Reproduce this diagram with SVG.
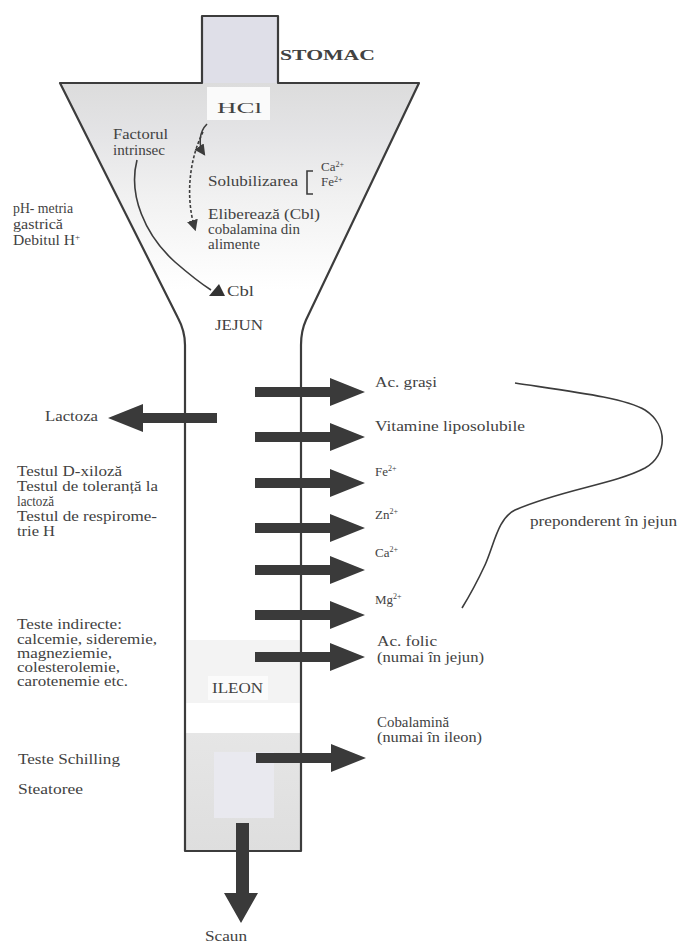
<svg xmlns="http://www.w3.org/2000/svg" xmlns:xlink="http://www.w3.org/1999/xlink" width="678" height="944" viewBox="0 0 678 944">
  <style>
    .t { font-family: "Liberation Serif", "Times New Roman", serif; font-size: 14px; fill: #424242; }
    .s { font-size: 13px; }
    .sup { font-size: 8px; }
    .wall { fill: none; stroke: #3c3c3c; stroke-width: 2.2; stroke-linejoin: round; }
    .thin { fill: none; stroke: #3c3c3c; stroke-width: 1.6; }
    .big { fill: #3a3a3a; }
  </style>
  <defs>
    <linearGradient id="stomachFill" x1="0" y1="83" x2="0" y2="290" gradientUnits="userSpaceOnUse">
      <stop offset="0" stop-color="#dcdcdc"/>
      <stop offset="0.25" stop-color="#e4e4e6"/>
      <stop offset="0.55" stop-color="#f1f1f1"/>
      <stop offset="1" stop-color="#ffffff"/>
    </linearGradient>
    <linearGradient id="ileumFill" x1="0" y1="733" x2="0" y2="851" gradientUnits="userSpaceOnUse">
      <stop offset="0" stop-color="#e6e6e6"/>
      <stop offset="1" stop-color="#dedede"/>
    </linearGradient>
    <path id="arrowRight" d="M0,-5 H75 V-14 L110,0 L75,14 V5 H0 Z"/>
    <marker id="tip" viewBox="0 0 10 10" refX="8" refY="5" markerWidth="7" markerHeight="7" orient="auto">
      <path d="M0,0 L10,5 L0,10 Z" fill="#3c3c3c"/>
    </marker>
  </defs>

  <rect width="678" height="944" fill="#ffffff"/>

  <!-- stomach, jejunum and ileum outline with shading -->
  <g id="stomac">
    <rect x="202" y="16" width="76" height="67" fill="#dfdfe8"/>
    <polygon points="60,83 419,83 306,320 178,318" fill="url(#stomachFill)"/>
    <rect x="207" y="87" width="63" height="33" fill="#fafafa"/>
    <rect x="186" y="640" width="114" height="63" fill="#f3f3f3"/>
    <rect x="208" y="676" width="60" height="24" fill="#fbfbfb"/>
    <rect x="186" y="733" width="114" height="117" fill="url(#ileumFill)"/>
    <rect x="214" y="752" width="60" height="66" fill="#e9e9ef"/>
    <path class="wall" d="M60,83 L202,83 L202,16 L278,16 L278,83 L419,83 L306,320 Q301,331 301,345 L301,851 L185,851 L185,345 Q185,331 178,318 Z"/>
    <text class="t" x="280" y="60" font-size="19" font-weight="bold" textLength="95" lengthAdjust="spacingAndGlyphs">STOMAC</text>
    <text class="t" x="217" y="113" font-size="19" textLength="45" lengthAdjust="spacingAndGlyphs">HCl</text>
  </g>

  <!-- gastric content -->
  <g id="factor-intrinsec">
    <text class="t" x="113" y="139" textLength="55" lengthAdjust="spacingAndGlyphs">Factorul</text>
    <text class="t" x="113" y="155" textLength="52" lengthAdjust="spacingAndGlyphs">intrinsec</text>
  </g>
  <g id="solubilizare">
    <text class="t" x="208" y="186" textLength="90" lengthAdjust="spacingAndGlyphs">Solubilizarea</text>
    <path class="thin" d="M313,171 H307 V194 H313"/>
    <text class="t s" x="321" y="171">Ca<tspan class="sup" dy="-4">2+</tspan></text>
    <text class="t s" x="321" y="186">Fe<tspan class="sup" dy="-4">2+</tspan></text>
  </g>
  <g id="eliberare">
    <text class="t" x="208" y="219" textLength="112" lengthAdjust="spacingAndGlyphs">Eliberează (Cbl)</text>
    <text class="t" x="208" y="234" textLength="92" lengthAdjust="spacingAndGlyphs">cobalamina din</text>
    <text class="t" x="208" y="249" textLength="52" lengthAdjust="spacingAndGlyphs">alimente</text>
  </g>
  <g id="cbl">
    <polygon points="209,296 219,284 225,296" fill="#333"/>
    <text class="t" x="227" y="296" textLength="27" lengthAdjust="spacingAndGlyphs">Cbl</text>
  </g>
  <g id="jejun">
    <text class="t" x="215" y="330" textLength="48" lengthAdjust="spacingAndGlyphs">JEJUN</text>
  </g>
  <g id="ileon">
    <text class="t" x="212" y="693" textLength="51" lengthAdjust="spacingAndGlyphs">ILEON</text>
  </g>

  <!-- left-hand labels -->
  <g id="ph-metria">
    <text class="t" x="13" y="213" textLength="60" lengthAdjust="spacingAndGlyphs">pH- metria</text>
    <text class="t" x="13" y="229" textLength="50" lengthAdjust="spacingAndGlyphs">gastrică</text>
    <text class="t" x="13" y="245" textLength="67" lengthAdjust="spacingAndGlyphs">Debitul H<tspan class="sup" dy="-5">+</tspan></text>
  </g>
  <g id="lactoza">
    <text class="t" x="45" y="421" textLength="53" lengthAdjust="spacingAndGlyphs">Lactoza</text>
  </g>
  <g id="teste-absorbtie">
    <text class="t" x="17" y="476" textLength="105" lengthAdjust="spacingAndGlyphs">Testul D-xiloză</text>
    <text class="t" x="17" y="491" textLength="141" lengthAdjust="spacingAndGlyphs">Testul de toleranță la</text>
    <text class="t" x="17" y="506" textLength="37" lengthAdjust="spacingAndGlyphs">lactoză</text>
    <text class="t" x="17" y="521" textLength="140" lengthAdjust="spacingAndGlyphs">Testul de respirome-</text>
    <text class="t" x="17" y="536" textLength="38" lengthAdjust="spacingAndGlyphs">trie H</text>
  </g>
  <g id="teste-indirecte">
    <text class="t" x="17" y="629" textLength="105" lengthAdjust="spacingAndGlyphs">Teste indirecte:</text>
    <text class="t" x="17" y="644" textLength="140" lengthAdjust="spacingAndGlyphs">calcemie, sideremie,</text>
    <text class="t" x="17" y="658" textLength="95" lengthAdjust="spacingAndGlyphs">magneziemie,</text>
    <text class="t" x="17" y="672" textLength="103" lengthAdjust="spacingAndGlyphs">colesterolemie,</text>
    <text class="t" x="17" y="686" textLength="111" lengthAdjust="spacingAndGlyphs">carotenemie etc.</text>
  </g>
  <g id="schilling">
    <text class="t" x="18" y="764" textLength="102" lengthAdjust="spacingAndGlyphs">Teste Schilling</text>
  </g>
  <g id="steatoree">
    <text class="t" x="18" y="794" textLength="65" lengthAdjust="spacingAndGlyphs">Steatoree</text>
  </g>

  <!-- right-hand absorbed substances -->
  <g id="ac-grasi"><text class="t" x="375" y="387" textLength="62" lengthAdjust="spacingAndGlyphs">Ac. grași</text></g>
  <g id="vitamine"><text class="t" x="375" y="431" textLength="150" lengthAdjust="spacingAndGlyphs">Vitamine liposolubile</text></g>
  <g id="fe"><text class="t s" x="375" y="476">Fe<tspan class="sup" dy="-5">2+</tspan></text></g>
  <g id="zn"><text class="t s" x="375" y="519">Zn<tspan class="sup" dy="-5">2+</tspan></text></g>
  <g id="ca"><text class="t s" x="375" y="557">Ca<tspan class="sup" dy="-5">2+</tspan></text></g>
  <g id="mg"><text class="t s" x="375" y="604">Mg<tspan class="sup" dy="-5">2+</tspan></text></g>
  <g id="ac-folic">
    <text class="t" x="377" y="646" textLength="60" lengthAdjust="spacingAndGlyphs">Ac. folic</text>
    <text class="t" x="377" y="662" textLength="107" lengthAdjust="spacingAndGlyphs">(numai în jejun)</text>
  </g>
  <g id="cobalamina">
    <text class="t" x="377" y="727" textLength="72" lengthAdjust="spacingAndGlyphs">Cobalamină</text>
    <text class="t" x="377" y="742" textLength="105" lengthAdjust="spacingAndGlyphs">(numai în ileon)</text>
  </g>
  <g id="preponderent">
    <text class="t" x="530" y="526" textLength="147" lengthAdjust="spacingAndGlyphs">preponderent în jejun</text>
  </g>
  <g id="scaun">
    <text class="t" x="205" y="941" textLength="42" lengthAdjust="spacingAndGlyphs">Scaun</text>
  </g>

  <!-- connectors -->
  <g id="connectors">
    <path class="thin" d="M207,124 C199,132 198,145 204,154" marker-end="url(#tip)"/>
    <path class="thin" d="M203,132 C188,162 186,200 195,229" stroke-dasharray="3,2" marker-end="url(#tip)"/>
    <path class="thin" d="M137,160 C128,195 145,235 175,262 C190,275 200,283 211,290"/>
    <path class="thin" d="M515,383 C575,392 625,398 645,410 C668,425 668,455 645,468 C615,484 560,490 515,510 C498,518 494,545 485,565 C478,580 470,595 462,608"/>

    <use xlink:href="#arrowRight" class="big" x="255" y="392"/>
    <use xlink:href="#arrowRight" class="big" x="255" y="437"/>
    <use xlink:href="#arrowRight" class="big" x="255" y="483"/>
    <use xlink:href="#arrowRight" class="big" x="255" y="528"/>
    <use xlink:href="#arrowRight" class="big" x="255" y="570"/>
    <use xlink:href="#arrowRight" class="big" x="255" y="615"/>
    <use xlink:href="#arrowRight" class="big" x="255" y="657"/>
    <use xlink:href="#arrowRight" class="big" x="256" y="758"/>

    <path class="big" d="M217,413 H143 V404 L108,418 L143,432 V423 H217 Z"/>
    <path class="big" d="M236,823 H249 V893 H258 L241,923 L224,893 H236 Z"/>
  </g>
</svg>
